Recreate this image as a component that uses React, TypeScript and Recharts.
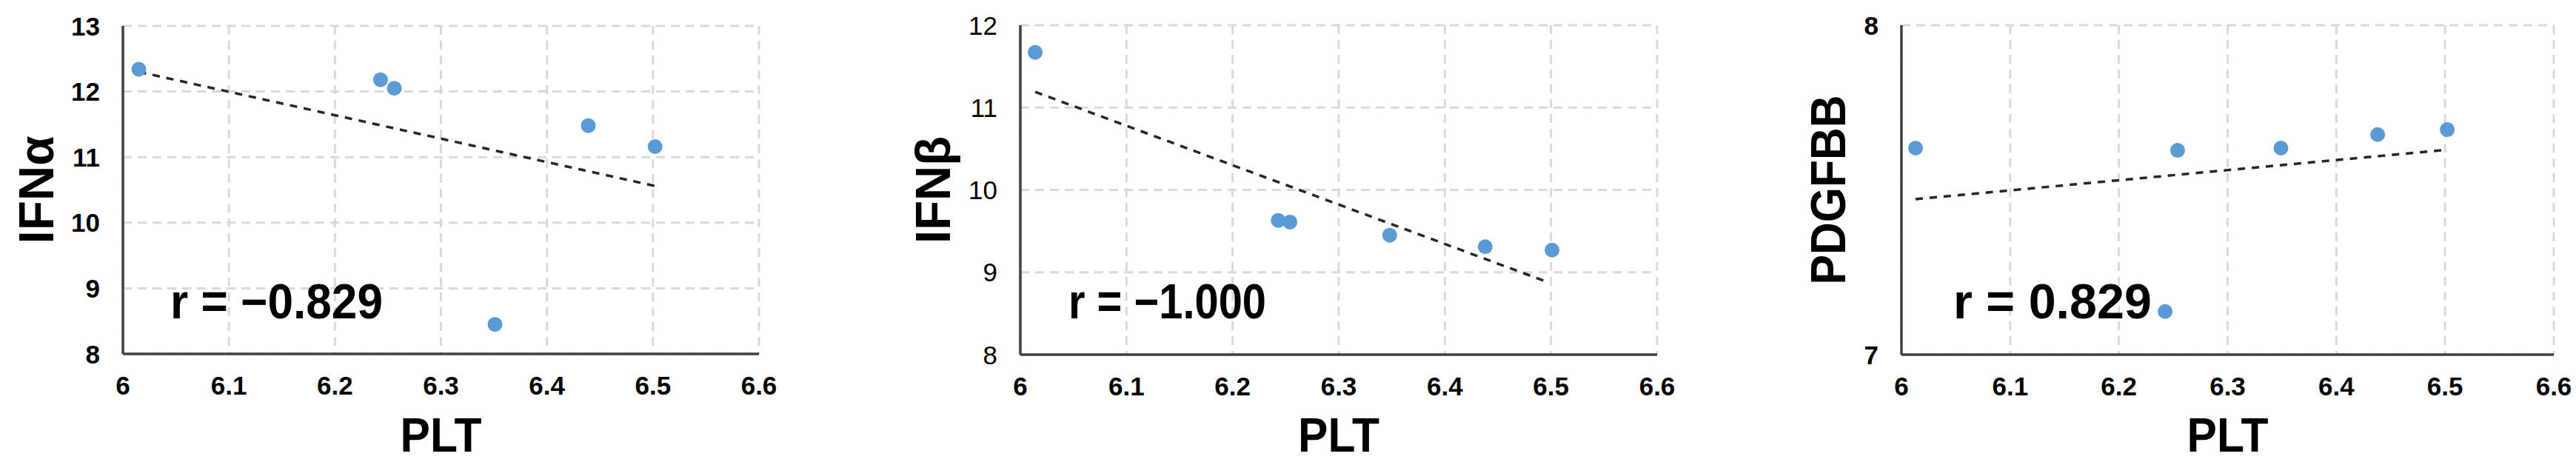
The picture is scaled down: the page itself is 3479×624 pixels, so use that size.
import React from 'react';
import { ScatterChart, Scatter, XAxis, YAxis, CartesianGrid, Label } from 'recharts';

// ---- data ----
const xTicks = [6, 6.1, 6.2, 6.3, 6.4, 6.5, 6.6];

const pltA = [6.015, 6.243, 6.256, 6.351, 6.439, 6.502];
const ifnAlpha = [12.34, 12.18, 12.05, 8.45, 11.48, 11.16];
const trendAx = [6.015, 6.502];
const trendAy = [12.3, 10.56];
const yTicksA = [8, 9, 10, 11, 12, 13];

const pltB = [6.014, 6.243, 6.254, 6.348, 6.438, 6.501];
const ifnBeta = [11.67, 9.63, 9.61, 9.45, 9.31, 9.27];
const trendBx = [6.014, 6.497];
const trendBy = [11.19, 8.88];
const yTicksB = [8, 9, 10, 11, 12];

const pltC = [6.013, 6.2425, 6.254, 6.349, 6.438, 6.502];
const pdgfbb = [7.627, 7.131, 7.62, 7.627, 7.668, 7.683];
const trendCx = [6.013, 6.502];
const trendCy = [7.472, 7.622];
const yTicksC = [7, 8];

const FONT = '"Liberation Sans", Arial, Helvetica, sans-serif';
const DOT = '#5B9BD5';

const zip = (xs: number[], ys: number[]) => xs.map((x, i) => ({ x, y: ys[i] }));

const XTick = (props: any) => {
  const { x, y, payload } = props;
  return (
    <text x={x} y={y + 55} textAnchor="middle" fontSize={35} fontWeight="bold" fill="#000" fontFamily={FONT}>
      {payload.value}
    </text>
  );
};

const makeYTick = (bold: boolean) => (props: any) => {
  const { x, y, payload } = props;
  return (
    <text x={x - 31} y={y + 12.5} textAnchor="end" fontSize={35} fontWeight={bold ? 'bold' : 'normal'} fill="#000" fontFamily={FONT}>
      {payload.value}
    </text>
  );
};

const Dot = (props: any) => {
  const { cx, cy } = props;
  if (cx == null || cy == null) return <g />;
  return <circle cx={cx} cy={cy} r={10} fill={DOT} />;
};

const NoDot = () => <g />;

type PanelProps = {
  left: number;
  width: number;
  margin: { top: number; right: number; left: number; bottom: number };
  yWidth: number;
  xHeight: number;
  yDomain: [number, number];
  yTicks: number[];
  yBoldTicks: boolean;
  yLabel: string;
  yLabelX: number;
  yLabelLen: number;
  points: { x: number; y: number }[];
  trend: { x: number; y: number }[];
};

const Panel = (p: PanelProps) => {
  const YTick = makeYTick(p.yBoldTicks);
  return (
    <div style={{ position: 'absolute', left: p.left, top: 0 }}>
      <ScatterChart width={p.width} height={624} margin={p.margin}>
        <CartesianGrid stroke="#d9d9d9" strokeWidth={3} strokeDasharray="12 8" />
        <XAxis
          type="number"
          dataKey="x"
          domain={[6, 6.6]}
          ticks={xTicks}
          allowDataOverflow
          height={p.xHeight}
          tickSize={0}
          tickMargin={0}
          tickLine={false}
          axisLine={{ stroke: '#404040', strokeWidth: 3.5 }}
          tick={<XTick />}
          interval={0}
        >
          <Label
            content={(lp: any) => {
              const vb = lp.viewBox || {};
              const cx = vb.x + vb.width / 2;
              return (
                <text x={cx} y={610} textAnchor="middle" fontSize={64} fontWeight="bold" fill="#000" fontFamily={FONT} textLength={110} lengthAdjust="spacingAndGlyphs">
                  PLT
                </text>
              );
            }}
          />
        </XAxis>
        <YAxis
          type="number"
          dataKey="y"
          domain={p.yDomain}
          ticks={p.yTicks}
          allowDataOverflow
          width={p.yWidth}
          tickSize={0}
          tickMargin={0}
          tickLine={false}
          axisLine={{ stroke: '#404040', strokeWidth: 3.5 }}
          tick={<YTick />}
          interval={0}
        >
          <Label
            content={(lp: any) => {
              const vb = lp.viewBox || {};
              const cy = vb.y + vb.height / 2;
              return (
                <text
                  x={p.yLabelX}
                  y={cy}
                  transform={`rotate(-90, ${p.yLabelX}, ${cy})`}
                  textAnchor="middle"
                  fontSize={67}
                  fontWeight="bold"
                  fill="#000"
                  fontFamily={FONT}
                  textLength={p.yLabelLen}
                  lengthAdjust="spacingAndGlyphs"
                >
                  {p.yLabel}
                </text>
              );
            }}
          />
        </YAxis>
        <Scatter
          data={p.trend}
          line={{ stroke: '#262626', strokeWidth: 3.5, strokeDasharray: '10 9' }}
          lineType="joint"
          shape={<NoDot />}
          isAnimationActive={false}
        />
        <Scatter data={p.points} shape={<Dot />} isAnimationActive={false} />
      </ScatterChart>
    </div>
  );
};

const rTexts = [
  { label: 'r = \u22120.829', x: 230, len: 287 },
  { label: 'r = \u22121.000', x: 1443, len: 267 },
  { label: 'r = 0.829', x: 2638, len: 268 },
];

export default function App() {
  return (
    <div style={{ position: 'absolute', left: 0, top: 0, width: 3479, height: 624, background: '#fff', overflow: 'hidden' }}>
      <Panel
        left={0}
        width={1160}
        margin={{ top: 35, right: 135, left: 0, bottom: 0 }}
        yWidth={166}
        xHeight={146}
        yDomain={[8, 13]}
        yTicks={yTicksA}
        yBoldTicks={true}
        yLabel="IFNα"
        yLabelX={72}
        yLabelLen={146}
        points={zip(pltA, ifnAlpha)}
        trend={zip(trendAx, trendAy)}
      />
      <Panel
        left={1160}
        width={1160}
        margin={{ top: 34, right: 82, left: 0, bottom: 0 }}
        yWidth={218}
        xHeight={145}
        yDomain={[8, 12]}
        yTicks={yTicksB}
        yBoldTicks={false}
        yLabel="IFNβ"
        yLabelX={123}
        yLabelLen={145}
        points={zip(pltB, ifnBeta)}
        trend={zip(trendBx, trendBy)}
      />
      <Panel
        left={2320}
        width={1159}
        margin={{ top: 34, right: 30, left: 0, bottom: 0 }}
        yWidth={248}
        xHeight={145}
        yDomain={[7, 8]}
        yTicks={yTicksC}
        yBoldTicks={true}
        yLabel="PDGFBB"
        yLabelX={172}
        yLabelLen={256}
        points={zip(pltC, pdgfbb)}
        trend={zip(trendCx, trendCy)}
      />
      <svg width={3479} height={624} style={{ position: 'absolute', left: 0, top: 0, pointerEvents: 'none' }}>
        {rTexts.map((t) => (
          <text
            key={t.label}
            x={t.x}
            y={430}
            fontSize={66}
            fontWeight="bold"
            fill="#000"
            fontFamily={FONT}
            textLength={t.len}
            lengthAdjust="spacingAndGlyphs"
          >
            {t.label}
          </text>
        ))}
      </svg>
    </div>
  );
}
